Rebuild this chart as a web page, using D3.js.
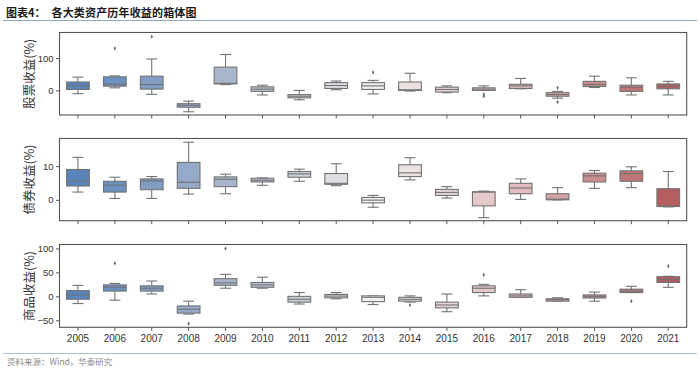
<!DOCTYPE html>
<html>
<head>
<meta charset="utf-8">
<script src="https://cdn.jsdelivr.net/npm/d3@7"></script>
<style>
  html, body { margin: 0; padding: 0; background: #fff; }
  svg { display: block; }
  text { font-family: "Liberation Sans", Arial, sans-serif; }
  .cjk { font-family: "Noto Sans CJK SC", sans-serif; }
</style>
</head>
<body>
<svg id="chart" width="700" height="374"></svg>
<script>
// ---------- data ----------
const years = ["2005","2006","2007","2008","2009","2010","2011","2012","2013","2014","2015","2016","2017","2018","2019","2020","2021"];

// each entry: [lower whisker, Q1, median, Q3, upper whisker]
const stockBoxes = [
  [-10, 3, 15, 26, 41], [8, 13, 19, 42, 45], [-12, 4, 18, 44, 97], [-66, -52, -46, -41, -33],
  [18, 20, 22, 72, 111], [-14, -3, 4, 11, 16], [-29, -23, -18, -13, 0], [2, 6, 15, 24, 29],
  [-11, 3, 14, 24, 31], [-2, 0, 2, 26, 53], [-7, -5, 3, 10, 14], [0, 0, 4, 8, 14],
  [5, 6, 14, 19, 37], [-24, -18, -13, -7, -3], [9, 12, 18, 28, 44], [-14, -3, 9, 16, 39],
  [-14, 5, 13, 20, 28]
];
const stockOutliers = [["2006",130],["2007",166],["2013",56],["2016",-12],["2016",-18],["2018",8],["2018",-36]];

const bondBoxes = [
  [2.3, 4.1, 5.6, 9.0, 12.6], [0.4, 2.3, 4.3, 5.5, 6.7], [0.4, 3.0, 5.6, 6.2, 6.9], [1.7, 3.4, 5.2, 11.1, 17.1],
  [1.8, 3.9, 6.1, 6.8, 7.6], [4.3, 5.3, 5.8, 6.4, 6.5], [5.5, 6.7, 7.7, 8.4, 9.1], [4.2, 4.6, 4.9, 7.8, 10.7],
  [-2.2, -0.9, -0.1, 0.7, 1.3], [5.9, 6.9, 8.0, 10.4, 12.5], [0.5, 1.3, 2.2, 3.1, 3.9], [-5.3, -1.8, 2.3, 2.4, 2.6],
  [0.1, 1.8, 3.5, 4.9, 6.2], [0.0, 0.0, 0.2, 1.8, 3.6], [3.4, 5.3, 7.1, 7.9, 8.7], [3.6, 5.5, 7.8, 8.6, 9.8],
  [-2.1, -2.0, -1.9, 3.3, 8.4]
];
const bondOutliers = [];

const commodityBoxes = [
  [-15, -6, 3, 12, 23], [-8, 11, 19, 24, 27], [5, 11, 17, 22, 32], [-37, -35, -27, -20, -10],
  [17, 23, 28, 37, 46], [17, 19, 24, 29, 40], [-16, -12, -6, 0, 8], [-5, -3, 0.6, 4, 8],
  [-17, -11, -2, 1, 1], [-12, -10, -6, -2, 1], [-32, -24, -18, -12, 5], [1, 8, 17, 22, 25],
  [-2, -2, 1, 5, 14], [-10, -10, -7, -5, -3], [-10, -3.5, 0, 3, 9], [8, 8, 11, 15, 21],
  [19, 29, 35, 41, 42]
];
const commodityOutliers = [["2006",69],["2008",-57],["2009",100],["2014",-18],["2016",45],["2020",-10],["2021",63]];

const stockTicks = [0, 100];
const bondTicks = [0, 10];
const commodityTicks = [-50, 0, 50, 100];

const panels = [
  { label: "股票收益(%)", boxes: stockBoxes, outliers: stockOutliers, domain: [-76, 179], ticks: stockTicks, top: 32.5, bottom: 115 },
  { label: "债券收益(%)", boxes: bondBoxes, outliers: bondOutliers, domain: [-6.2, 18.2], ticks: bondTicks, top: 138.5, bottom: 220.7 },
  { label: "商品收益(%)", boxes: commodityBoxes, outliers: commodityOutliers, domain: [-64.6, 108.3], ticks: commodityTicks, top: 244.5, bottom: 327.3 }
];

// ---------- drawing ----------
const svg = d3.select("#chart");
const left = 59.5, right = 686.7;

const x = d3.scaleBand().domain(years).range([left, right]).paddingInner(0).paddingOuter(0);
const n = years.length - 1;
const color = d3.scaleLinear()
  .domain([0, n * 0.25, n * 0.5, n * 0.75, n])
  .range(["#5784bb", "#a8b6cc", "#f0eeee", "#e2bcbc", "#b45e60"])
  .interpolate(d3.interpolateRgb);

const boxW = x.bandwidth() * 0.615;
const capW = boxW * 0.48;
const lineColor = "#737373";

// title
svg.append("text").attr("class", "cjk").attr("x", 6).attr("y", 16.5)
  .attr("font-size", 11).attr("font-weight", "bold").attr("fill", "#1a1a1a")
  .text("图表4：");
svg.append("text").attr("class", "cjk").attr("x", 51.5).attr("y", 16.5)
  .attr("font-size", 11).attr("font-weight", "bold").attr("fill", "#1a1a1a")
  .attr("textLength", 145).attr("lengthAdjust", "spacing")
  .text("各大类资产历年收益的箱体图");
svg.append("line").attr("x1", 3).attr("x2", 697).attr("y1", 20.5).attr("y2", 20.5)
  .attr("stroke", "#8fa9c9").attr("stroke-width", 1.2);

panels.forEach((p, pi) => {
  const y = d3.scaleLinear().domain(p.domain).range([p.bottom, p.top]);
  const g = svg.append("g");

  // y axis
  const yAxis = d3.axisLeft(y).tickValues(p.ticks).tickSize(3.5).tickPadding(2.5).tickFormat(d3.format("d"));
  const ya = g.append("g").attr("transform", `translate(${left},0)`).call(yAxis);
  ya.select(".domain").remove();
  ya.selectAll(".tick line").attr("stroke", "#444").attr("stroke-width", 0.9);
  ya.selectAll(".tick text").attr("font-size", 9.5).attr("fill", "#333")
    .attr("font-family", "'Liberation Sans', Arial, sans-serif");

  // x axis
  const xAxis = d3.axisBottom(x).tickSize(3.5).tickPadding(4);
  const xa = g.append("g").attr("transform", `translate(0,${p.bottom})`).call(xAxis);
  xa.select(".domain").remove();
  xa.selectAll(".tick line").attr("stroke", "#444").attr("stroke-width", 0.9);
  if (pi === panels.length - 1) {
    xa.selectAll(".tick text").attr("font-size", 10).attr("fill", "#333")
      .attr("font-family", "'Liberation Sans', Arial, sans-serif");
  } else {
    xa.selectAll(".tick text").remove();
  }

  // boxes
  years.forEach((yr, i) => {
    const [lo, q1, med, q3, hi] = p.boxes[i];
    const cx = x(yr) + x.bandwidth() / 2;
    const bg = g.append("g");
    // whiskers
    bg.append("line").attr("x1", cx).attr("x2", cx).attr("y1", y(q3)).attr("y2", y(hi))
      .attr("stroke", lineColor).attr("stroke-width", 1.1);
    bg.append("line").attr("x1", cx).attr("x2", cx).attr("y1", y(q1)).attr("y2", y(lo))
      .attr("stroke", lineColor).attr("stroke-width", 1.1);
    bg.append("line").attr("x1", cx - capW / 2).attr("x2", cx + capW / 2).attr("y1", y(hi)).attr("y2", y(hi))
      .attr("stroke", lineColor).attr("stroke-width", 1.1);
    bg.append("line").attr("x1", cx - capW / 2).attr("x2", cx + capW / 2).attr("y1", y(lo)).attr("y2", y(lo))
      .attr("stroke", lineColor).attr("stroke-width", 1.1);
    // box
    bg.append("rect").attr("x", cx - boxW / 2).attr("width", boxW)
      .attr("y", y(q3)).attr("height", Math.max(1, y(q1) - y(q3)))
      .attr("fill", color(i)).attr("stroke", lineColor).attr("stroke-width", 1.1);
    // median
    bg.append("line").attr("x1", cx - boxW / 2).attr("x2", cx + boxW / 2).attr("y1", y(med)).attr("y2", y(med))
      .attr("stroke", lineColor).attr("stroke-width", 1.1);
  });

  // outliers (small diamonds)
  g.selectAll(".out").data(p.outliers).enter().append("path")
    .attr("d", d3.symbol(d3.symbolDiamond, 5))
    .attr("transform", d => `translate(${x(d[0]) + x.bandwidth() / 2},${y(d[1])})`)
    .attr("fill", "#666");

  // frame
  g.append("rect").attr("x", left).attr("y", p.top).attr("width", right - left).attr("height", p.bottom - p.top)
    .attr("fill", "none").attr("stroke", "#555").attr("stroke-width", 1.1);

  // y label
  const cy = (p.top + p.bottom) / 2;
  g.append("text").attr("class", "cjk")
    .attr("transform", `translate(28,${cy}) rotate(-90)`)
    .attr("text-anchor", "middle").attr("dominant-baseline", "central")
    .attr("font-size", 12.5).attr("fill", "#333")
    .text(p.label);
});

// footer
svg.append("line").attr("x1", 3).attr("x2", 697).attr("y1", 353.5).attr("y2", 353.5)
  .attr("stroke", "#a9bedb").attr("stroke-width", 1);
svg.append("text").attr("class", "cjk").attr("x", 7).attr("y", 365)
  .attr("font-size", 8.5).attr("fill", "#8a8a8a")
  .text("资料来源：Wind，华泰研究");
</script>
</body>
</html>
